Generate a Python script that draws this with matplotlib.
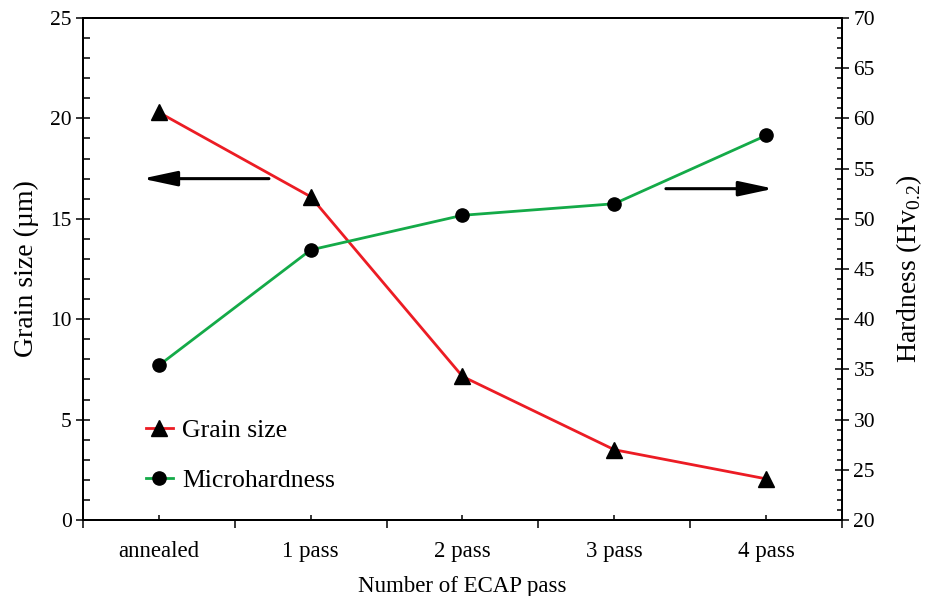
import matplotlib as mpl

mpl.use("agg")
from matplotlib import pyplot as plt
from matplotlib.ticker import MultipleLocator

plt.rcParams["font.family"] = ["Liberation Serif", "DejaVu Serif"]
plt.rcParams["mathtext.fontset"] = "custom"
plt.rcParams["mathtext.rm"] = "Liberation Serif"

# values
passes = ["annealed", "1 pass", "2 pass", "3 pass", "4 pass"]
grain_size = [20.3, 16.1, 7.15, 3.5, 2.05]  # um
hardness = [35.4, 46.9, 50.35, 51.5, 58.3]  # Hv0.2

RED = "#ec1c24"
GREEN = "#14aa48"


def plot():
    fig = plt.figure(facecolor="w", figsize=(9.3, 5.96), dpi=100)
    ax = fig.add_axes([0.0892, 0.1275, 0.8162, 0.8423])
    ax2 = ax.twinx()

    x = list(range(len(passes)))
    l1, = ax.plot(x, grain_size, "-", c=RED, lw=2.0, marker="^", ms=11.5,
                  mfc="k", mec="k", label="Grain size")
    l2, = ax2.plot(x, hardness, "-", c=GREEN, lw=2.0, marker="o", ms=9.5,
                   mfc="k", mec="k", label="Microhardness")

    ax.set_xlim(-0.5, len(passes) - 0.5)
    ax.set_ylim(0, 25)
    ax2.set_ylim(20, 70)

    # category boundaries carry long outward ticks, categories short inward ones
    ax.set_xticks([i - 0.5 for i in range(len(passes) + 1)])
    ax.set_xticklabels([])
    ax.set_xticks(x, minor=True)
    ax.set_xticklabels(passes, minor=True, fontsize=16.5)
    ax.tick_params(axis="x", which="major", direction="out", length=6, width=1.1)
    ax.tick_params(axis="x", which="minor", direction="in", length=3.6,
                   width=1.1, pad=15)
    ax.tick_params(axis="x", top=False, which="both")

    ax.yaxis.set_major_locator(MultipleLocator(5))
    ax.yaxis.set_minor_locator(MultipleLocator(1))
    ax.tick_params(axis="y", which="major", direction="inout", length=10,
                   width=1.1, pad=3, labelsize=15.5)
    ax.tick_params(axis="y", which="minor", direction="in", length=5, width=1.1)

    ax2.yaxis.set_major_locator(MultipleLocator(5))
    ax2.yaxis.set_minor_locator(MultipleLocator(1))
    ax2.tick_params(axis="y", which="major", direction="inout", length=9.5,
                    width=1.1, pad=3.5, labelsize=15.5)
    ax2.tick_params(axis="y", which="minor", direction="in", length=3.6, width=1.1)

    for a in (ax, ax2):
        for s in a.spines.values():
            s.set_linewidth(1.4)

    ax.set_xlabel("Number of ECAP pass", fontsize=16.5, labelpad=10)
    ax.set_ylabel("Grain size (\u00b5m)", fontsize=20, labelpad=8)
    ax2.set_ylabel(r"Hardness (Hv$_{\mathrm{0.2}}$)", fontsize=20, labelpad=14)

    # arrows pointing at the axis each curve belongs to
    arrow = dict(arrowstyle="-|>,head_length=21,head_width=4.5", mutation_scale=1,
                 lw=2.2, color="k", shrinkA=0, shrinkB=0)
    ax.annotate("", xy=(-0.11, 17.0), xytext=(0.725, 17.0), arrowprops=arrow)
    ax2.annotate("", xy=(4.05, 53.0), xytext=(3.34, 53.0), arrowprops=arrow)

    ax.legend([l1, l2], ["Grain size", "Microhardness"], loc="lower left",
              bbox_to_anchor=(0.083, 0.055), frameon=False, fontsize=18.5,
              handlelength=1.05, handletextpad=0.35, labelspacing=1.08,
              borderpad=0, borderaxespad=0)
    return fig


if __name__ == "__main__":
    fig = plot()
    fig.savefig("out.png", dpi=100)
